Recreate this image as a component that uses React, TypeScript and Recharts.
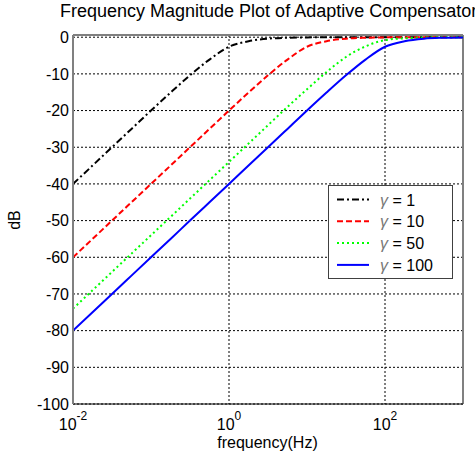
import React from "react"
import { LineChart, Line, XAxis, YAxis, CartesianGrid, ReferenceLine } from "recharts"

// frequency points (Hz), quarter-decade steps
const freqs = [0.01, 0.0178, 0.0316, 0.0562, 0.1, 0.178, 0.316, 0.562, 1, 1.78, 3.16, 5.62, 10, 17.8, 31.6, 56.2, 100, 178, 316, 562, 1000]

// magnitude in dB
const gamma1 = [-40, -35, -30, -25, -20, -15.1, -10.4, -6.1, -2.6, -1.1, -0.4, -0.15, -0.05, 0, 0, 0, 0, 0, 0, 0, 0]
const gamma10 = [-60, -55, -50, -45, -40, -35, -30, -25, -20, -15.1, -10.4, -6.1, -2.6, -1.1, -0.4, -0.15, -0.05, 0, 0, 0, 0]
const gamma50 = [-74, -69, -64, -59, -54, -49, -44, -39, -34, -29, -24, -19, -14.2, -9.5, -5.4, -2.5, -0.8, -0.3, -0.1, 0, 0]
const gamma100 = [-80, -75, -70, -65, -60, -55, -50, -45, -40, -35, -30, -25, -20, -15.1, -10.4, -6.1, -2.6, -1.1, -0.4, -0.15, -0.05]

const xTicks = [0.01, 1, 100]
const yTicks = [-100, -90, -80, -70, -60, -50, -40, -30, -20, -10, 0]

const series = [
  { key: "g1", label: "1", color: "#000000", dash: "7 3 2 3" },
  { key: "g10", label: "10", color: "#ff0000", dash: "6 3" },
  { key: "g50", label: "50", color: "#00ff00", dash: "2 3" },
  { key: "g100", label: "100", color: "#0000ff", dash: undefined },
]

const data = freqs.map((f, i) => ({
  f,
  g1: gamma1[i],
  g10: gamma10[i],
  g50: gamma50[i],
  g100: gamma100[i],
}))

const font = "'Liberation Sans', Arial, sans-serif"

function LogTick(props: any) {
  const { x, payload } = props
  const exp = Math.round(Math.log10(payload.value))
  return (
    <text x={x} y={430} textAnchor="middle" fontFamily={font} fontSize={16} fill="#000">
      10
      <tspan dy={-10} fontSize={12}>{exp}</tspan>
    </text>
  )
}

function LegendBox() {
  return (
    <svg width={125} height={94} style={{ display: "block" }}>
      <rect x={0.5} y={0.5} width={124} height={93} fill="#fff" stroke="#404040" />
      {series.map((s, i) => {
        const cy = 14.5 + i * 21.8
        return (
          <g key={s.key}>
            <line x1={9} x2={41} y1={cy} y2={cy} stroke={s.color} strokeWidth={2} strokeDasharray={s.dash} />
            <text x={52} y={cy + 6} fontFamily={font} fontSize={16} fill="#000">
              <tspan fontStyle="italic" fill="#777">γ</tspan> = {s.label}
            </text>
          </g>
        )
      })}
    </svg>
  )
}

export default function App() {
  return (
    <div style={{ position: "absolute", left: 0, top: 0, width: 475, height: 456, background: "#fff", overflow: "hidden" }}>
      <LineChart width={475} height={456} data={data} margin={{ top: 35, right: 12, bottom: 22, left: 0 }}>
        <CartesianGrid stroke="#000" strokeDasharray="2 2" horizontalValues={yTicks} verticalValues={xTicks} />
        <XAxis
          dataKey="f"
          type="number"
          scale="log"
          domain={[0.01, 1000]}
          ticks={xTicks}
          allowDataOverflow
          height={30}
          tickSize={0}
          tick={<LogTick />}
          axisLine={{ stroke: "#000", strokeWidth: 1 }}
        />
        <YAxis
          type="number"
          domain={[-100, 0.6]}
          ticks={yTicks}
          allowDataOverflow
          width={73}
          tickSize={0}
          tickMargin={4}
          axisLine={{ stroke: "#808080", strokeWidth: 2 }}
          tick={{ fontSize: 16, fontFamily: font, fill: "#000" }}
        />
        <ReferenceLine y={0.6} stroke="#808080" strokeWidth={2} />
        <ReferenceLine x={1000} stroke="#808080" strokeWidth={2} />
        {series.map((s) => (
          <Line
            key={s.key}
            dataKey={s.key}
            type="monotone"
            stroke={s.color}
            strokeWidth={2}
            strokeDasharray={s.dash}
            dot={false}
            isAnimationActive={false}
          />
        ))}
      </LineChart>
      <div style={{ position: "absolute", left: 328, top: 185 }}>
        <LegendBox />
      </div>
      <div style={{ position: "absolute", left: 60, top: 1, whiteSpace: "nowrap", fontFamily: font, fontSize: 18, color: "#000" }}>
        Frequency Magnitude Plot of Adaptive Compensator
      </div>
      <div style={{ position: "absolute", left: 0, width: 535, top: 434, textAlign: "center", fontFamily: font, fontSize: 16, color: "#000" }}>
        frequency(Hz)
      </div>
      <div style={{ position: "absolute", left: 15, top: 220, transform: "translate(-50%, -50%) rotate(-90deg)", fontFamily: font, fontSize: 16, color: "#000" }}>
        dB
      </div>
    </div>
  )
}
